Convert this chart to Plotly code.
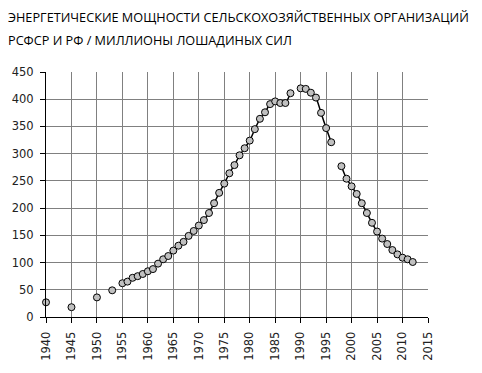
import plotly.graph_objects as go

years = list(range(1940, 2013))
known = {
    1940: 27, 1945: 18, 1950: 36, 1953: 49,
    1955: 62, 1956: 65, 1957: 72, 1958: 75, 1959: 79, 1960: 84, 1961: 88,
    1962: 98, 1963: 106, 1964: 112, 1965: 122, 1966: 131, 1967: 138,
    1968: 149, 1969: 158, 1970: 168, 1971: 178, 1972: 191, 1973: 209,
    1974: 228, 1975: 245, 1976: 264, 1977: 279, 1978: 297, 1979: 310,
    1980: 324, 1981: 345, 1982: 364, 1983: 376, 1984: 391, 1985: 396,
    1986: 393, 1987: 393, 1988: 411,
    1990: 420, 1991: 419, 1992: 412, 1993: 403, 1994: 375, 1995: 347,
    1996: 321,
    1998: 277, 1999: 254, 2000: 240, 2001: 226, 2002: 209, 2003: 191,
    2004: 173, 2005: 157, 2006: 144, 2007: 134, 2008: 123, 2009: 115,
    2010: 109, 2011: 106, 2012: 101,
}
values = [known.get(y) for y in years]
x_ticks = list(range(1940, 2016, 5))
y_ticks = list(range(0, 451, 50))
title_lines = ["ЭНЕРГЕТИЧЕСКИЕ МОЩНОСТИ СЕЛЬСКОХОЗЯЙСТВЕННЫХ ОРГАНИЗАЦИЙ",
               "РСФСР И РФ / МИЛЛИОНЫ ЛОШАДИНЫХ СИЛ"]

fig = go.Figure()
fig.add_trace(go.Scatter(
    x=years, y=values, mode="lines+markers", connectgaps=False,
    line=dict(color="black", width=1.5, shape="spline", smoothing=0.6),
    marker=dict(size=7, color="#C0C0C0", line=dict(color="black", width=1)),
    cliponaxis=False, showlegend=False,
))

axis_font = dict(family="DejaVu Sans", size=11.5, color="#222222")
fig.update_layout(
    width=482, height=373,
    margin=dict(l=45, r=54, t=72, b=54),
    paper_bgcolor="white", plot_bgcolor="white",
    xaxis=dict(range=[1940, 2015], tickvals=x_ticks, tickangle=-90,
               showgrid=True, gridcolor="#808080", gridwidth=1,
               showline=True, linecolor="black", linewidth=1,
               ticks="outside", ticklen=5, tickcolor="black",
               ticklabelstandoff=4,
               tickfont=axis_font, zeroline=False, mirror=False),
    yaxis=dict(range=[0, 450], tickvals=y_ticks,
               showgrid=True, gridcolor="#808080", gridwidth=1,
               showline=True, linecolor="black", linewidth=1,
               ticks="outside", ticklen=5, tickcolor="black",
               ticklabelstandoff=4,
               tickfont=axis_font, zeroline=False),
)
for i, t in enumerate(title_lines):
    fig.add_annotation(
        text=t, xref="paper", yref="paper",
        x=-40/383, y=(319 - 17 - 23*i)/247, xanchor="left", yanchor="middle",
        showarrow=False, font=dict(family="Open Sans", size=12.7, color="black"))

fig.write_html("out.html")
